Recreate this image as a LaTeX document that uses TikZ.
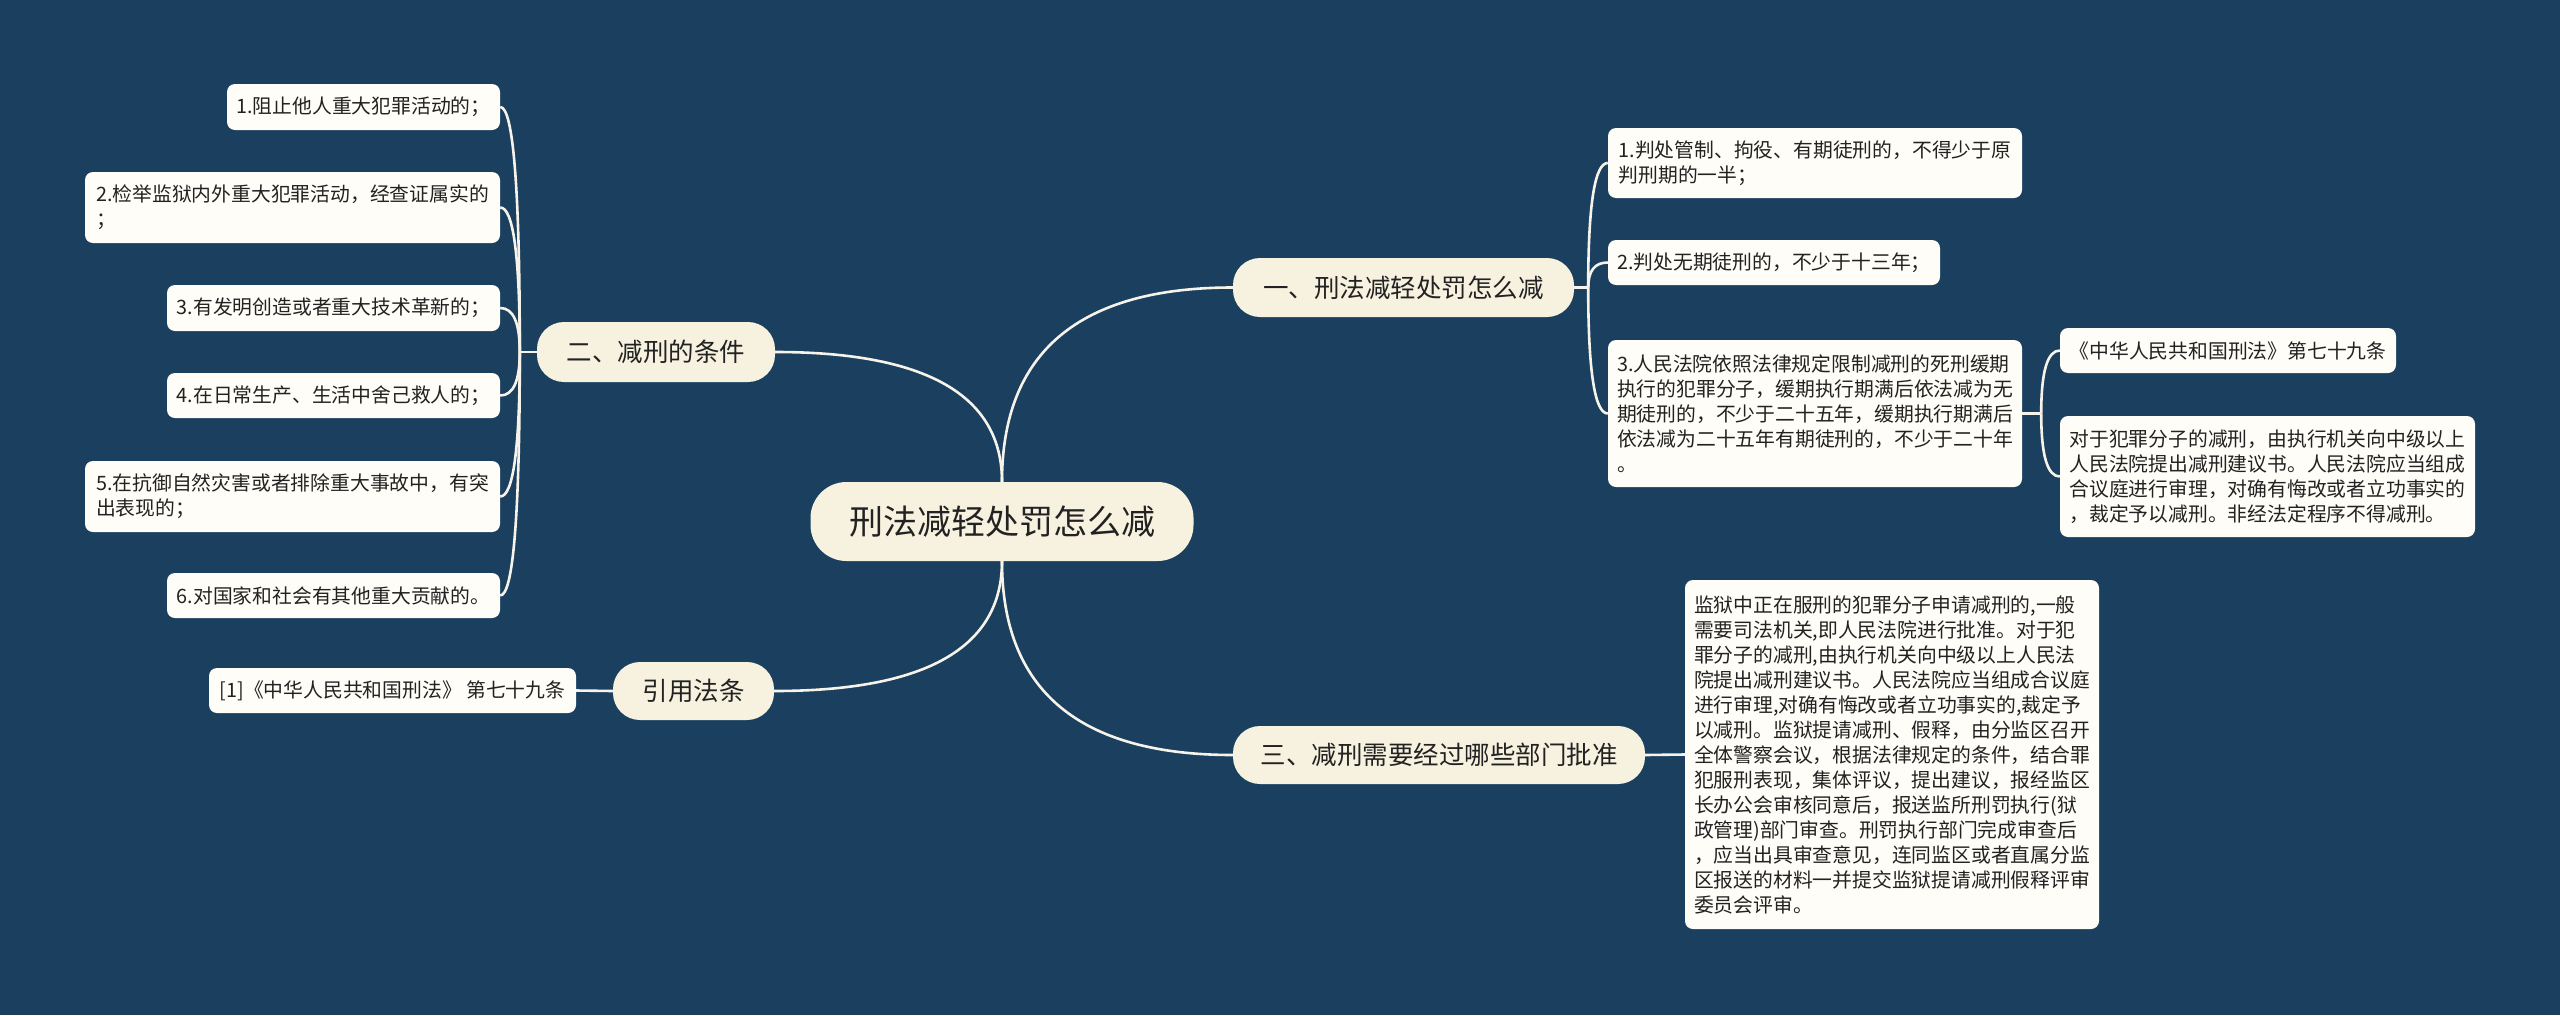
\documentclass[tikz,border=0pt]{standalone}
\usepackage{fontspec}
\newfontfamily\cjk{Noto Sans CJK SC}
\usetikzlibrary{calc}
\definecolor{bgc}{HTML}{1B3F5E}
\definecolor{linkc}{HTML}{F6F3EA}
\definecolor{topc}{HTML}{F7F2E0}
\definecolor{leafc}{HTML}{FFFDF7}
\definecolor{txtc}{HTML}{222222}
\newcommand\qlink[2]{%
  \path (#1 |- #2) coordinate (qk);
  \draw[link] (#1) .. controls ($(#1)!0.6667!(qk)$) and ($(#2)!0.6667!(qk)$) .. (#2);}
\begin{document}
\begin{tikzpicture}[x=1pt,y=-1pt,
  link/.style={draw=linkc, line width=2.6pt},
  sz/.style 2 args={minimum width=#1pt, minimum height=#2pt},
  leaf/.style={fill=leafc, rounded corners=8pt, align=left, inner sep=0pt, text=txtc,
    font=\cjk\fontsize{19.8}{25}\selectfont},
  topic/.style={fill=topc, rounded corners=27pt, inner sep=0pt, text=txtc,
    font=\cjk\fontsize{25.5}{30}\selectfont},
  root/.style={fill=topc, rounded corners=36pt, inner sep=0pt, text=txtc,
    font=\cjk\fontsize{34}{40}\selectfont}]
\fill[bgc] (0,0) rectangle (2560,1015);
\useasboundingbox (0,0) rectangle (2560,1015);

% central and main topics
\node[root, sz={383}{79}] (c) at (1002,521.5) {刑法减轻处罚怎么减};
\node[topic, sz={341}{59}] (n1) at (1403.5,287.5) {一、刑法减轻处罚怎么减};
\node[topic, sz={238}{60}] (n2) at (656,352) {二、减刑的条件};
\node[topic, sz={412}{58}] (n3) at (1439,755) {三、减刑需要经过哪些部门批准};
\node[topic, sz={161}{58}] (n4) at (693.5,691) {引用法条};

% left leaves
\node[leaf, sz={273}{46}] (l1) at (363.5,107) {1.阻止他人重大犯罪活动的；};
\node[leaf, sz={415}{71}] (l2) at (292.5,207.5) {2.检举监狱内外重大犯罪活动，经查证属实的\\；};
\node[leaf, sz={333}{46}] (l3) at (333.5,308) {3.有发明创造或者重大技术革新的；};
\node[leaf, sz={333}{45}] (l4) at (333.5,395.5) {4.在日常生产、生活中舍己救人的；};
\node[leaf, sz={415}{71}] (l5) at (292.5,496.5) {5.在抗御自然灾害或者排除重大事故中，有突\\出表现的；};
\node[leaf, sz={333}{45}] (l6) at (333.5,595.5) {6.对国家和社会有其他重大贡献的。};
\node[leaf, sz={367}{45}] (cit) at (392.5,690.5) {[1]《中华人民共和国刑法》 第七十九条};

% right leaves
\node[leaf, sz={414}{70}] (r1) at (1815,163) {1.判处管制、拘役、有期徒刑的，不得少于原\\判刑期的一半；};
\node[leaf, sz={332}{45}] (r2) at (1774,262.5) {2.判处无期徒刑的，不少于十三年；};
\node[leaf, sz={414}{147}] (r3) at (1815,413.5) {3.人民法院依照法律规定限制减刑的死刑缓期\\执行的犯罪分子，缓期执行期满后依法减为无\\期徒刑的，不少于二十五年，缓期执行期满后\\依法减为二十五年有期徒刑的，不少于二十年\\。};
\node[leaf, sz={336}{45}] (s1) at (2228,350.5) {《中华人民共和国刑法》第七十九条};
\node[leaf, sz={415}{121}] (s2) at (2267.5,476.5) {对于犯罪分子的减刑，由执行机关向中级以上\\人民法院提出减刑建议书。人民法院应当组成\\合议庭进行审理，对确有悔改或者立功事实的\\，裁定予以减刑。非经法定程序不得减刑。};
\node[leaf, sz={414}{349}] (t1) at (1892,754.5) {监狱中正在服刑的犯罪分子申请减刑的,一般\\需要司法机关,即人民法院进行批准。对于犯\\罪分子的减刑,由执行机关向中级以上人民法\\院提出减刑建议书。人民法院应当组成合议庭\\进行审理,对确有悔改或者立功事实的,裁定予\\以减刑。监狱提请减刑、假释，由分监区召开\\全体警察会议，根据法律规定的条件，结合罪\\犯服刑表现，集体评议，提出建议，报经监区\\长办公会审核同意后，报送监所刑罚执行(狱\\政管理)部门审查。刑罚执行部门完成审查后\\，应当出具审查意见，连同监区或者直属分监\\区报送的材料一并提交监狱提请减刑假释评审\\委员会评审。};

% hubs
\coordinate (h2) at ($(n2.west)+(-17,0)$);
\coordinate (h1) at ($(n1.east)+(14,0)$);
\coordinate (h3) at ($(r3.east)+(19,0)$);

% main connectors
\qlink{c.north}{n1.west}
\qlink{c.north}{n2.east}
\qlink{c.south}{n3.west}
\qlink{c.south}{n4.east}

% branch two
\draw[link] (n2.west) -- (h2);
\qlink{h2}{l1.east}
\qlink{h2}{l2.east}
\qlink{h2}{l3.east}
\qlink{h2}{l4.east}
\qlink{h2}{l5.east}
\qlink{h2}{l6.east}

% branch one
\draw[link] (n1.east) -- (h1);
\qlink{h1}{r1.west}
\qlink{h1}{r2.west}
\qlink{h1}{r3.west}
\draw[link] (r3.east) -- (h3);
\qlink{h3}{s1.west}
\qlink{h3}{s2.west}

% straight links
\draw[link] (n3.east) -- (t1.west);
\draw[link] (cit.east) -- (n4.west);
\end{tikzpicture}
\end{document}
